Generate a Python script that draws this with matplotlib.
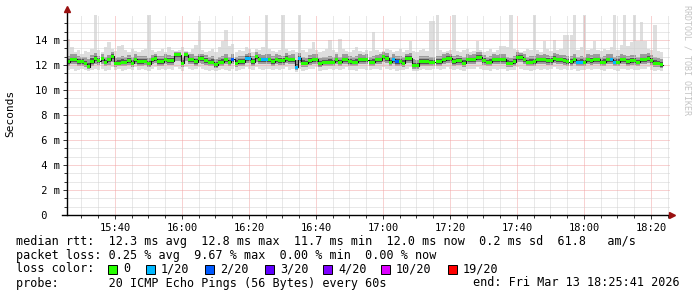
import numpy as np
import matplotlib
matplotlib.use("Agg")
import matplotlib.pyplot as plt
import matplotlib.dates as mdates
from matplotlib.patches import Rectangle
from matplotlib.ticker import FixedLocator
from datetime import datetime, timedelta

plt.rcParams['font.family'] = ['DejaVu Sans Mono']

# ---- data (ms), one value per minute ----
med = [12.27, 12.45, 12.45, 12.27, 12.27, 12.08, 11.87, 12.27, 12.50, 12.35,
       12.50, 12.20, 12.40, 12.70, 12.13, 12.13, 12.20, 12.20, 12.35, 12.13,
       12.45, 12.27, 12.27, 12.27, 12.08, 12.40, 12.50, 12.27, 12.27, 12.45,
       12.35, 12.35, 12.80, 12.80, 12.13, 12.80, 12.45, 12.45, 12.27, 12.50,
       12.50, 12.35, 12.20, 12.20, 12.00, 12.20, 12.20, 12.40, 12.20, 12.45,
       12.13, 12.27, 12.27, 12.53, 12.53, 12.27, 12.67, 12.40, 12.40, 12.40,
       12.40, 12.27, 12.45, 12.35, 12.35, 12.53, 12.40, 12.40, 11.81, 12.53,
       12.13, 12.13, 12.35, 12.45, 12.45, 12.08, 12.20, 12.20, 12.20, 12.20,
       12.40, 12.20, 12.45, 12.45, 12.27, 12.20, 12.20, 12.45, 12.40, 12.40,
       12.20, 12.20, 12.40, 12.40, 12.67, 12.53, 12.20, 12.45, 12.27, 12.27,
       12.13, 12.53, 12.53, 11.92, 11.92, 12.27, 12.27, 12.27, 12.20, 12.20,
       12.27, 12.27, 12.40, 12.53, 12.53, 12.27, 12.35, 12.35, 12.13, 12.40,
       12.40, 12.45, 12.60, 12.60, 12.35, 12.20, 12.20, 12.40, 12.40, 12.40,
       12.45, 12.13, 12.13, 12.27, 12.60, 12.60, 12.40, 12.20, 12.20, 12.27,
       12.40, 12.40, 12.45, 12.35, 12.35, 12.53, 12.40, 12.40, 12.35, 12.27,
       12.27, 12.45, 12.20, 12.20, 12.20, 12.40, 12.35, 12.45, 12.45, 12.20,
       12.20, 12.40, 12.45, 12.20, 12.20, 12.40, 12.40, 12.27, 12.35, 12.35,
       12.20, 12.40, 12.45, 12.53, 12.35, 12.13, 12.13, 12.00]

hi = [14.1, 13.4, 13.0, 13.2, 12.9, 13.1, 13.0, 13.3, 16.0, 13.2,
      13.0, 13.4, 13.8, 13.3, 13.1, 13.5, 13.6, 13.2, 13.0, 13.3,
      13.1, 13.0, 13.2, 13.3, 16.0, 13.2, 13.0, 13.1, 13.3, 13.0,
      13.4, 13.2, 13.1, 13.2, 13.4, 13.1, 13.0, 13.3, 13.6, 15.5,
      13.2, 13.0, 13.1, 13.3, 13.0, 13.4, 13.9, 14.8, 13.5, 13.7,
      13.0, 13.2, 13.1, 13.4, 13.3, 13.0, 13.3, 13.2, 13.4, 16.0,
      13.3, 13.1, 13.0, 13.2, 16.0, 13.3, 13.1, 13.2, 13.0, 16.0,
      13.2, 13.0, 13.3, 13.8, 13.2, 13.0, 13.1, 13.3, 14.0, 13.2,
      13.0, 14.1, 13.3, 13.1, 13.0, 13.2, 13.4, 13.1, 13.0, 13.2,
      13.1, 14.6, 13.2, 13.0, 13.1, 13.3, 13.2, 13.0, 13.1, 13.3,
      13.0, 13.2, 13.9, 13.1, 13.0, 13.2, 13.3, 13.1, 15.5, 15.5,
      16.0, 13.2, 13.0, 13.1, 13.2, 16.0, 13.1, 13.0, 13.2, 13.3,
      13.0, 13.1, 13.9, 13.2, 13.0, 13.1, 13.3, 13.0, 13.2, 13.5,
      13.5, 13.4, 16.0, 13.3, 13.2, 13.0, 13.1, 13.3, 13.2, 16.0,
      13.2, 13.0, 13.9, 13.3, 13.1, 14.0, 13.2, 13.3, 14.4, 14.4,
      14.4, 16.0, 13.2, 13.4, 16.0, 13.2, 13.3, 13.9, 13.2, 13.1,
      13.3, 13.2, 13.4, 16.0, 13.2, 13.6, 16.0, 13.5, 13.8, 16.0,
      13.9, 15.4, 13.9, 13.3, 13.2, 15.2, 13.1, 13.0]

lo = [11.6, 11.7, 11.5, 11.6, 11.7, 11.6, 11.5, 11.6, 11.7, 11.6,
      11.7, 11.5, 11.6, 11.8, 11.6, 11.7, 11.5, 11.6, 11.7, 11.6,
      11.8, 11.6, 11.7, 11.6, 11.5, 11.7, 11.8, 11.6, 11.7, 11.6,
      11.7, 11.6, 11.8, 11.7, 11.5, 11.8, 11.7, 11.6, 11.7, 11.8,
      11.7, 11.6, 11.5, 11.6, 11.5, 11.6, 11.7, 11.6, 11.5, 11.7,
      11.5, 11.6, 11.7, 11.8, 11.7, 11.6, 11.8, 11.7, 11.6, 11.7,
      11.7, 11.6, 11.7, 11.6, 11.7, 11.8, 11.6, 11.7, 11.4, 11.7,
      11.5, 11.6, 11.7, 11.7, 11.8, 11.5, 11.6, 11.6, 11.7, 11.6,
      11.7, 11.6, 11.7, 11.8, 11.6, 11.6, 11.5, 11.7, 11.7, 11.6,
      11.6, 11.7, 11.7, 11.6, 11.8, 11.7, 11.6, 11.7, 11.5, 11.6,
      11.6, 11.7, 11.8, 11.5, 11.5, 11.6, 11.7, 11.6, 11.6, 11.7,
      11.7, 11.6, 11.7, 11.8, 11.7, 11.6, 11.7, 11.6, 11.5, 11.7,
      11.7, 11.7, 11.8, 11.7, 11.6, 11.6, 11.5, 11.7, 11.6, 11.7,
      11.7, 11.5, 11.6, 11.6, 11.8, 11.7, 11.6, 11.6, 11.5, 11.6,
      11.7, 11.6, 11.7, 11.6, 11.7, 11.8, 11.7, 11.6, 11.7, 11.6,
      11.6, 11.7, 11.5, 11.6, 11.6, 11.7, 11.6, 11.7, 11.7, 11.6,
      11.5, 11.7, 11.7, 11.6, 11.5, 11.7, 11.7, 11.6, 11.7, 11.6,
      11.6, 11.7, 11.7, 11.8, 11.6, 11.5, 11.6, 11.5]

q1 = [11.95, 12.10, 12.05, 11.95, 11.90, 11.85, 11.70, 11.95, 12.10, 12.00,
      12.10, 11.90, 12.00, 12.20, 11.85, 11.90, 11.90, 11.95, 12.00, 11.85,
      12.10, 11.95, 11.95, 12.00, 11.80, 12.05, 12.15, 11.95, 11.95, 12.10,
      12.00, 12.00, 12.30, 12.35, 11.85, 12.30, 12.10, 12.05, 11.95, 12.15,
      12.10, 12.00, 11.90, 11.90, 11.75, 11.90, 11.90, 12.05, 11.90, 12.10,
      11.85, 11.95, 11.95, 12.15, 12.15, 11.95, 12.25, 12.05, 12.05, 12.05,
      12.05, 11.95, 12.10, 12.00, 12.00, 12.15, 12.05, 12.05, 11.60, 12.15,
      11.85, 11.85, 12.00, 12.10, 12.10, 11.80, 11.90, 11.90, 11.90, 11.90,
      12.05, 11.90, 12.10, 12.10, 11.95, 11.90, 11.90, 12.10, 12.05, 12.05,
      11.90, 11.90, 12.05, 12.05, 12.25, 12.15, 11.90, 12.10, 11.95, 11.95,
      11.85, 12.15, 12.15, 11.70, 11.70, 11.95, 11.95, 11.95, 11.90, 11.90,
      11.95, 11.95, 12.05, 12.15, 12.15, 11.95, 12.00, 12.00, 11.85, 12.05,
      12.05, 12.10, 12.20, 12.20, 12.00, 11.90, 11.90, 12.05, 12.05, 12.05,
      12.10, 11.85, 11.85, 11.95, 12.20, 12.20, 12.05, 11.90, 11.90, 11.95,
      12.05, 12.05, 12.10, 12.00, 12.00, 12.15, 12.05, 12.05, 12.00, 11.95,
      11.95, 12.10, 11.90, 11.90, 11.90, 12.05, 12.00, 12.10, 12.10, 11.90,
      11.90, 12.05, 12.10, 11.90, 11.90, 12.05, 12.05, 11.95, 12.00, 12.00,
      11.90, 12.05, 12.10, 12.15, 12.00, 11.85, 11.85, 11.75]

q3 = [12.75, 12.85, 12.90, 12.70, 12.65, 12.60, 12.50, 12.80, 12.95, 12.75,
      12.85, 12.65, 12.80, 13.00, 12.55, 12.60, 12.70, 12.65, 12.80, 12.60,
      12.85, 12.70, 12.75, 12.70, 12.55, 12.80, 12.90, 12.70, 12.75, 12.85,
      12.80, 12.75, 13.05, 13.05, 12.60, 13.05, 12.85, 12.90, 12.70, 12.90,
      12.90, 12.80, 12.65, 12.70, 12.50, 12.65, 12.70, 12.85, 12.65, 12.90,
      12.60, 12.75, 12.70, 12.90, 12.95, 12.70, 13.00, 12.85, 12.80, 12.85,
      12.85, 12.70, 12.90, 12.80, 12.75, 12.95, 12.80, 12.85, 12.40, 12.95,
      12.60, 12.55, 12.80, 12.85, 12.90, 12.55, 12.65, 12.65, 12.70, 12.65,
      12.85, 12.60, 12.90, 12.85, 12.70, 12.65, 12.70, 12.85, 12.80, 12.85,
      12.65, 12.70, 12.80, 12.85, 13.00, 12.95, 12.65, 12.90, 12.70, 12.75,
      12.60, 12.90, 12.95, 12.45, 12.40, 12.70, 12.75, 12.70, 12.65, 12.65,
      12.70, 12.75, 12.85, 12.95, 12.90, 12.70, 12.80, 12.75, 12.60, 12.85,
      12.80, 12.90, 13.00, 13.00, 12.80, 12.65, 12.70, 12.85, 12.80, 12.90,
      12.90, 12.60, 12.55, 12.75, 13.00, 12.95, 12.85, 12.65, 12.70, 12.75,
      12.85, 12.80, 12.90, 12.80, 12.75, 12.95, 12.85, 12.80, 12.80, 12.70,
      12.75, 12.90, 12.65, 12.70, 12.65, 12.85, 12.80, 12.90, 12.85, 12.65,
      12.70, 12.85, 12.90, 12.65, 12.70, 12.85, 12.80, 12.75, 12.80, 12.80,
      12.65, 12.85, 12.90, 12.95, 12.80, 12.60, 12.55, 12.45]

# minutes (index) with lost pings and how many of 20 were lost
loss_min = [49, 53, 54, 58, 59, 68, 69, 97, 98, 152, 153, 162, 163]
loss_cnt = [2, 1, 1, 1, 1, 1, 1, 1, 2, 1, 1, 1, 1]

loss_levels = [0, 1, 2, 3, 4, 10, 19]
loss_labels = ['0', '1/20', '2/20', '3/20', '4/20', '10/20', '19/20']
loss_colors = ['#26ff00', '#00b8ff', '#0059ff', '#5e00ff', '#7e00ff', '#dd00ff', '#ff0000']

ytick_vals = [0, 2, 4, 6, 8, 10, 12, 14]
ytick_labels = [' 0  ', ' 2 m', ' 4 m', ' 6 m', ' 8 m', '10 m', '12 m', '14 m']

rtt_line = "median rtt:  12.3 ms avg  12.8 ms max  11.7 ms min  12.0 ms now  0.2 ms sd  61.8   am/s"
loss_line = "packet loss: 0.25 % avg  9.67 % max  0.00 % min  0.00 % now"
probe_line = "probe:       20 ICMP Echo Pings (56 Bytes) every 60s"
end_line = "end: Fri Mar 13 18:25:41 2026"

t_start = datetime(2026, 3, 13, 15, 25, 41)
t_end = datetime(2026, 3, 13, 18, 25, 41)

# ---- drawing ----
W, H = 697, 297
fig = plt.figure(figsize=(W / 100, H / 100), dpi=100)
fig.patch.set_facecolor('white')
ax = fig.add_axes([67 / W, 82 / H, 603 / W, 200 / H])

med = np.array(med)
hi = np.array(hi)
lo = np.array(lo)
q1 = np.array(q1)
q3 = np.array(q3)
n = len(med)
t = mdates.date2num([t_start + timedelta(minutes=i) for i in range(n)])
step = 1 / 1440

# smoke
ax.bar(t, hi - lo, bottom=lo, width=step, align='edge', color='#dedede', lw=0, zorder=1)
ax.bar(t, q3 - q1, bottom=q1, width=step, align='edge', color='#9c9c9c', lw=0, zorder=1.1)
c_lo = (q1 + med) / 2
c_hi = (q3 + med) / 2
ax.bar(t, c_hi - c_lo, bottom=c_lo, width=step, align='edge', color='#555555', lw=0, zorder=1.2)

# median line coloured by loss
ax.step(np.append(t, t[-1] + step), np.append(med, med[-1]), where='post',
        color='#111111', lw=0.8, zorder=3)
cnt = np.zeros(n, dtype=int)
cnt[loss_min] = loss_cnt
cols = []
for c in cnt:
    k = max(i for i, lv in enumerate(loss_levels) if lv <= c)
    cols.append(loss_colors[k])
ax.bar(t, 0.24, bottom=med - 0.12, width=step, align='edge', color=cols, lw=0, zorder=4)

ax.set_xlim(mdates.date2num(t_start), mdates.date2num(t_end))
ax.set_ylim(0, 16)

ax.xaxis.set_major_locator(mdates.MinuteLocator(byminute=[0, 20, 40]))
ax.xaxis.set_minor_locator(mdates.MinuteLocator(byminute=[5, 10, 15, 25, 30, 35, 45, 50, 55]))
ax.xaxis.set_major_formatter(mdates.DateFormatter('%H:%M'))
ax.yaxis.set_major_locator(FixedLocator(ytick_vals))
ax.yaxis.set_minor_locator(FixedLocator([k * 2 / 3 for k in range(25) if k % 3]))
ax.set_yticklabels(ytick_labels)

ax.set_axisbelow(False)
ax.grid(which='minor', color='#d2d2d2', linestyle=(0, (1, 1)), lw=0.72)
ax.grid(which='major', color='#f2a4a4', linestyle=(0, (1, 1)), lw=0.72)

for s in ax.spines.values():
    s.set_visible(False)
ax.tick_params(which='both', direction='out', color='#333333', width=0.7,
               labelsize=7.5, pad=2)
ax.tick_params(which='major', length=3)
ax.tick_params(which='minor', length=2)
ax.tick_params(axis='x', pad=3)

# axes with arrows
ax.plot([0, 0], [0, 1.03], transform=ax.transAxes, color='black', lw=1, clip_on=False, zorder=5)
ax.plot([-0.008, 1.0], [0, 0], transform=ax.transAxes, color='black', lw=1, clip_on=False, zorder=5)
ax.plot([0], [1.03], marker='^', ms=4, color='#9a1010', transform=ax.transAxes, clip_on=False, zorder=6)
ax.plot([1.003], [0], marker='>', ms=4, color='#9a1010', transform=ax.transAxes, clip_on=False, zorder=6)

fig.text(10 / W, 1 - 113 / H, 'Seconds', rotation=90, ha='center', va='center', fontsize=8)
fig.text(687 / W, 1 - 60 / H, 'RRDTOOL / TOBI OETIKER', rotation=270, ha='center', va='center',
         fontsize=6, color='#c4c4c4')

# legend
fs = 8.5
fig.text(16 / W, 1 - 241 / H, rtt_line, ha='left', va='center', fontsize=fs)
fig.text(16 / W, 1 - 255.5 / H, loss_line, ha='left', va='center', fontsize=fs)
fig.text(16 / W, 1 - 269 / H, "loss color:", ha='left', va='center', fontsize=fs)
box_x = [108, 146, 205, 265, 323, 381, 448]
for bx, lab, col in zip(box_x, loss_labels, loss_colors):
    fig.add_artist(Rectangle((bx / W, 1 - 273.5 / H), 9 / W, 9 / H, transform=fig.transFigure,
                             facecolor=col, edgecolor='black', lw=0.7))
    fig.text((bx + 15) / W, 1 - 269 / H, lab, ha='left', va='center', fontsize=fs)
fig.text(16 / W, 1 - 283 / H, probe_line, ha='left', va='center', fontsize=fs)
fig.text(680 / W, 1 - 283 / H, end_line, ha='right', va='center', fontsize=fs)

fig.savefig('out.png', dpi=100)
